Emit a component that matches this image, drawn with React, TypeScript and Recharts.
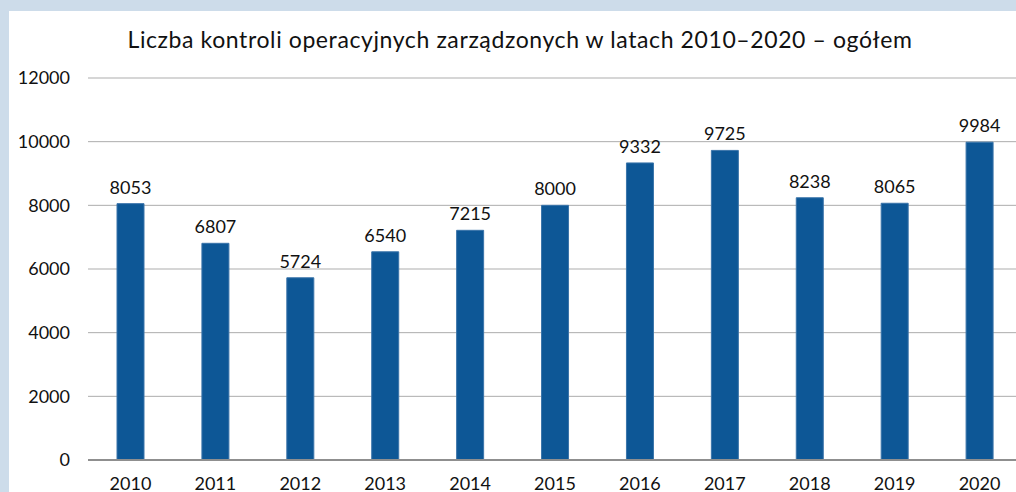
import React from "react";
import { BarChart, Bar, XAxis, YAxis, CartesianGrid, LabelList } from "recharts";

const years = ["2010", "2011", "2012", "2013", "2014", "2015", "2016", "2017", "2018", "2019", "2020"];
const values = [8053, 6807, 5724, 6540, 7215, 8000, 9332, 9725, 8238, 8065, 9984];
const yTicks = [0, 2000, 4000, 6000, 8000, 10000, 12000];
const title = "Liczba kontroli operacyjnych zarządzonych w latach 2010–2020 – ogółem";

const data = years.map((y, i) => ({ year: y, value: values[i] }));

const FONT = "Lato, 'Open Sans', sans-serif";

export default function App() {
  return (
    <div
      style={{
        position: "fixed",
        left: 0,
        top: 0,
        width: 1016,
        height: 492,
        overflow: "hidden",
        background: "#cddcea",
      }}
    >
      <div
        style={{
          position: "absolute",
          left: 9,
          top: 11,
          width: 1100,
          height: 600,
          background: "#ffffff",
        }}
      />
      <div
        style={{
          position: "absolute",
          left: 0,
          top: 25,
          width: 1040,
          textAlign: "center",
          fontFamily: FONT,
          fontSize: 23,
          letterSpacing: 0.6,
          lineHeight: "28px",
          color: "#111",
          whiteSpace: "nowrap",
        }}
      >
        {title}
      </div>
      <div style={{ position: "absolute", left: 0, top: 0 }}>
        <BarChart
          width={1030}
          height={492}
          data={data}
          margin={{ top: 78, right: 8, bottom: 2, left: 0 }}
          barCategoryGap={0}
        >
          <CartesianGrid vertical={false} stroke="#adadad" strokeWidth={1} />
          <XAxis
            dataKey="year"
            height={30}
            tickLine={false}
            tickSize={0}
            tickMargin={17}
            axisLine={{ stroke: "#8f8f8f", strokeWidth: 2 }}
            tick={{ fill: "#111", fontSize: 18, fontFamily: FONT }}
            interval={0}
          />
          <YAxis
            width={88}
            domain={[0, 12000]}
            ticks={yTicks}
            tickLine={false}
            axisLine={false}
            tickSize={0}
            tickMargin={18}
            tick={{ fill: "#111", fontSize: 18, fontFamily: FONT }}
            interval={0}
          />
          <Bar
            dataKey="value"
            fill="#0d5796"
            stroke="#3a74aa"
            strokeWidth={1}
            barSize={27}
            isAnimationActive={false}
          >
            <LabelList
              dataKey="value"
              position="top"
              offset={10}
              style={{ fill: "#111", fontSize: 18, fontFamily: FONT }}
            />
          </Bar>
        </BarChart>
      </div>
    </div>
  );
}
